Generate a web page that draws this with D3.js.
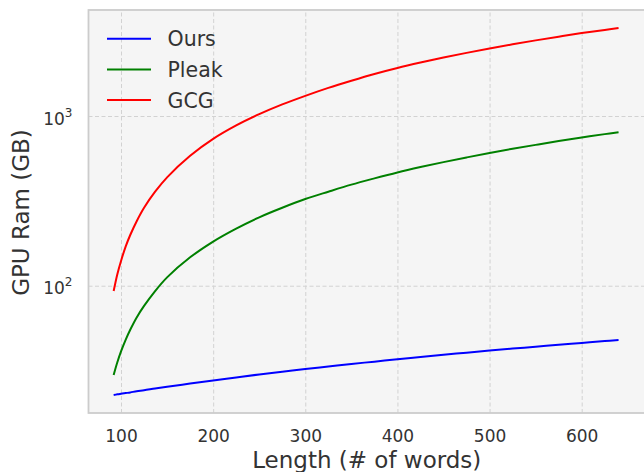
<!DOCTYPE html>
<html>
<head>
<meta charset="utf-8">
<script src="https://cdn.jsdelivr.net/npm/d3@7"></script>
<style>
  html, body { margin: 0; padding: 0; background: #ffffff; }
  svg { display: block; font-family: "DejaVu Sans", sans-serif; }
</style>
</head>
<body>
<svg id="chart" width="644" height="472"></svg>
<script>
// ---- Data ----
const lengths = [92, 96, 100, 105, 110, 117, 125, 137, 150, 175, 200, 225, 250, 275, 300, 325, 350, 375, 400, 425, 450, 475, 500, 525, 550, 575, 600, 625, 640];
const ours    = [22.7, 22.9, 23.1, 23.3, 23.5, 23.9, 24.2, 24.8, 25.4, 26.5, 27.6, 28.8, 30.0, 31.1, 32.3, 33.4, 34.6, 35.7, 36.9, 38.0, 39.2, 40.3, 41.5, 42.6, 43.7, 44.9, 46.0, 47.2, 47.8];
const pleak   = [29.8, 35.4, 41, 48, 55, 65, 76, 93, 112, 147, 182, 217, 253, 288, 324, 358, 394, 429, 465, 500, 535, 570, 606, 641, 676, 712, 747, 782, 802];
const gcg     = [93, 117, 140, 170, 199, 240, 288, 358, 435, 583, 733, 880, 1025, 1170, 1315, 1465, 1615, 1770, 1920, 2065, 2210, 2355, 2500, 2645, 2790, 2935, 3080, 3215, 3300];
const seriesNames = ["Ours", "Pleak", "GCG"];
const seriesColors = ["#0000ff", "#008000", "#ff0000"];
const xTicks = [100, 200, 300, 400, 500, 600];
const yTicks = [100, 1000];
const yTickExp = ["2", "3"];
const xLabel = "Length (# of words)";
const yLabel = "GPU Ram (GB)";

const svg = d3.select("#chart");
const plot = { left: 88.5, right: 645, top: 10, bottom: 413 };

const x = d3.scaleLinear().domain([64.7, 668.7]).range([plot.left, plot.right]);
const y = d3.scaleLog().domain([Math.pow(10, 1.250), Math.pow(10, 3.6246)]).range([plot.bottom, plot.top]);

// background
svg.append("rect")
  .attr("x", plot.left).attr("y", plot.top)
  .attr("width", plot.right - plot.left).attr("height", plot.bottom - plot.top)
  .attr("fill", "#f5f5f5");

// grid via axes
const gx = svg.append("g").attr("transform", `translate(0,${plot.bottom})`)
  .call(d3.axisBottom(x).tickValues(xTicks).tickSize(-(plot.bottom - plot.top)).tickFormat(""));
const gy = svg.append("g").attr("transform", `translate(${plot.left},0)`)
  .call(d3.axisLeft(y).tickValues(yTicks).tickSize(-(plot.right - plot.left)).tickFormat(""));
[gx, gy].forEach(g => {
  g.select(".domain").remove();
  g.selectAll(".tick line")
    .attr("stroke", "#d2d2d2").attr("stroke-width", 1)
    .attr("stroke-dasharray", "4,2.5");
});

// tick labels
const xl = svg.append("g").attr("transform", `translate(0,${plot.bottom})`)
  .call(d3.axisBottom(x).tickValues(xTicks).tickSize(0).tickPadding(0).tickFormat(d3.format("d")));
xl.select(".domain").remove();
xl.selectAll("text")
  .attr("y", 28.5).attr("dy", null)
  .attr("fill", "#333333")
  .style("font-size", "17px").style("font-family", "DejaVu Sans");

const yl = svg.append("g").attr("transform", `translate(${plot.left},0)`)
  .call(d3.axisLeft(y).tickValues(yTicks).tickSize(0).tickFormat(""));
yl.select(".domain").remove();
yl.selectAll(".tick").each(function(d, i) {
  const t = d3.select(this).select("text")
    .attr("x", -16).attr("dy", null).attr("y", 8)
    .attr("fill", "#333333")
    .attr("text-anchor", "end")
    .style("font-size", "17px").style("font-family", "DejaVu Sans");
  t.text(null);
  t.append("tspan").text("10");
  t.append("tspan").attr("dy", -8).style("font-size", "12px").text(yTickExp[i]);
});

// lines
const allSeries = [ours, pleak, gcg];
const line = d3.line()
  .x((d, i) => x(lengths[i]))
  .y(d => y(d))
  .curve(d3.curveCatmullRom.alpha(0.5));
allSeries.forEach((s, k) => {
  svg.append("path")
    .datum(s)
    .attr("fill", "none")
    .attr("stroke", seriesColors[k])
    .attr("stroke-width", 2)
    .attr("stroke-linejoin", "round")
    .attr("d", line);
});

// spines
svg.append("rect")
  .attr("x", plot.left).attr("y", plot.top)
  .attr("width", plot.right - plot.left).attr("height", plot.bottom - plot.top)
  .attr("fill", "none").attr("stroke", "#cccccc").attr("stroke-width", 1.8);

// legend
const legend = svg.append("g");
seriesNames.forEach((name, k) => {
  const ly = 38.7 + k * 30.7;
  legend.append("line")
    .attr("x1", 107).attr("x2", 151).attr("y1", ly).attr("y2", ly)
    .attr("stroke", seriesColors[k]).attr("stroke-width", 2);
  legend.append("text")
    .attr("x", 167.5).attr("y", ly + 7.5)
    .attr("fill", "#333333")
    .style("font-size", "20.5px")
    .text(name);
});

// axis labels
svg.append("text")
  .attr("x", (plot.left + plot.right) / 2).attr("y", 468)
  .attr("text-anchor", "middle").attr("fill", "#333333")
  .style("font-size", "23px")
  .text(xLabel);
svg.append("text")
  .attr("transform", "translate(28.5,212.5) rotate(-90)")
  .attr("text-anchor", "middle").attr("fill", "#333333")
  .style("font-size", "23px")
  .text(yLabel);
</script>
</body>
</html>
